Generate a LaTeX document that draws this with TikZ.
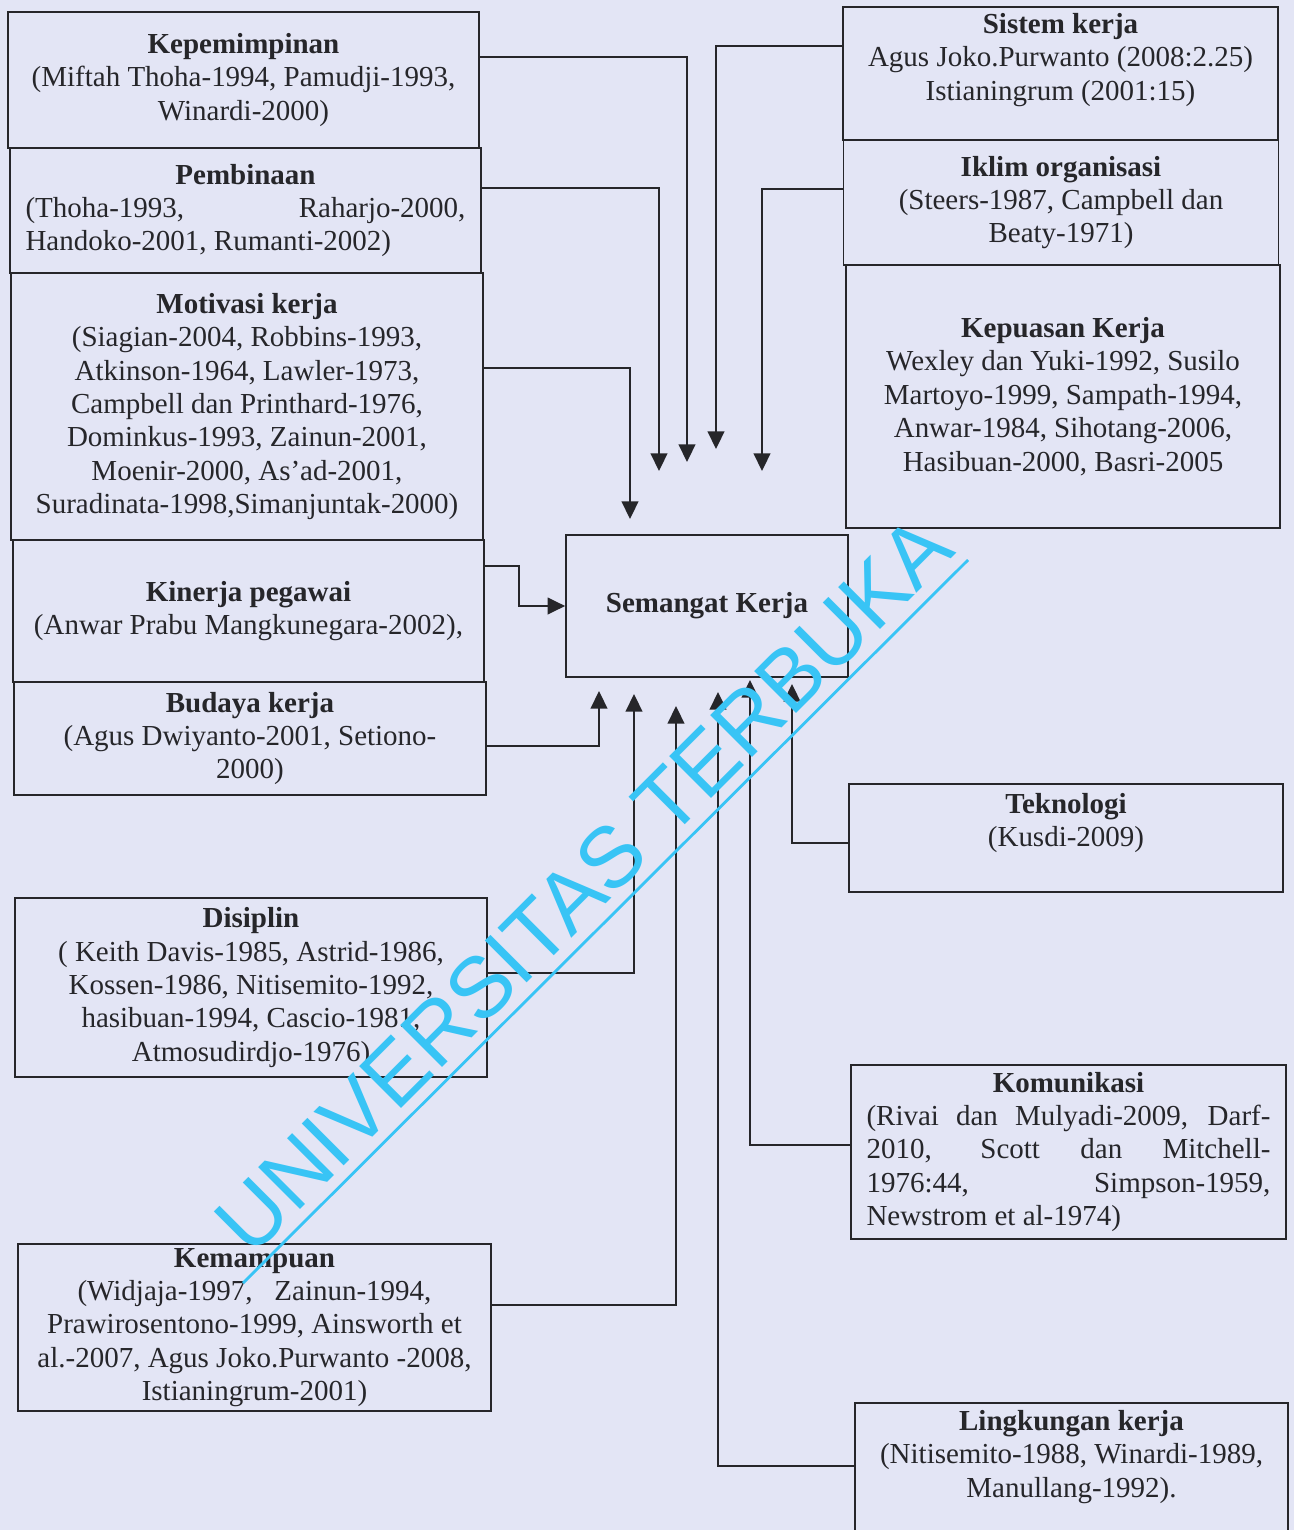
\documentclass[tikz,border=0pt]{standalone}
\usepackage{fontspec}
\setmainfont{Liberation Serif}
\newfontfamily\wmfont{Liberation Sans}
\usepackage{xcolor}
\usepackage{tikz}
\usetikzlibrary{arrows.meta,positioning,calc}

\definecolor{paper}{RGB}{227,229,245}
\definecolor{ink}{RGB}{38,38,42}
\definecolor{wmcyan}{RGB}{56,196,245}

\newcommand{\boxfont}{\fontsize{16.5}{19}\selectfont}
\newcommand{\jline}[2]{\makebox[#1][s]{#2}}
\newcommand{\lline}[2]{\makebox[#1][l]{#2}}

\begin{document}
\begin{tikzpicture}[x=0.02cm, y=-0.02cm,
    box/.style={draw=ink, line width=1pt, rectangle, inner sep=0pt, align=center, font=\boxfont, text=ink},
    txt/.style={inner sep=0pt, align=center, font=\boxfont, text=ink},
    arr/.style={draw=ink, line width=1pt, -{Triangle[width=9.5pt,length=10pt]}}]

    % Page
    \useasboundingbox (0,0) rectangle (1294,1530);
    \fill[paper] (0,0) rectangle (1294,1530);

    % Left column
    \node[box, minimum width=9.42cm, minimum height=2.72cm] (kep) at (243.5,80)
        {\textbf{Kepemimpinan}\\(Miftah Thoha-1994, Pamudji-1993,\\Winardi-2000)};
    \node[box, minimum width=9.42cm, minimum height=2.5cm] (pem) at (245.5,210.5)
        {\textbf{Pembinaan}\\\jline{8.8cm}{(Thoha-1993, Raharjo-2000,}\\\lline{8.8cm}{Handoko-2001, Rumanti-2002)}};
    \node[box, minimum width=9.44cm, minimum height=5.34cm] (mot) at (247,406.5)
        {\textbf{Motivasi kerja}\\(Siagian-2004, Robbins-1993,\\Atkinson-1964, Lawler-1973,\\Campbell dan Printhard-1976,\\Dominkus-1993, Zainun-2001,\\Moenir-2000, As’ad-2001,\\Suradinata-1998,Simanjuntak-2000)};
    \node[box, minimum width=9.42cm, minimum height=2.84cm] (kin) at (248.5,611)
        {\textbf{Kinerja pegawai}\\(Anwar Prabu Mangkunegara-2002),};
    \node[box, minimum width=9.44cm, minimum height=2.26cm] (bud) at (250,738.5)
        {\textbf{Budaya kerja}\\(Agus Dwiyanto-2001, Setiono-\\2000)};
    \node[box, minimum width=9.44cm, minimum height=3.58cm] (dis) at (251,987.5)
        {\textbf{Disiplin}\\( Keith Davis-1985, Astrid-1986,\\Kossen-1986, Nitisemito-1992,\\hasibuan-1994, Cascio-1981,\\Atmosudirdjo-1976)};
    \node[box, minimum width=9.46cm, minimum height=3.34cm] (kem) at (254.5,1327.5)
        {\textbf{Kemampuan}\\(Widjaja-1997,\ \ \ Zainun-1994,\\Prawirosentono-1999, Ainsworth et\\al.-2007, Agus Joko.Purwanto -2008,\\Istianingrum-2001)};

    % Centre
    \node[box, minimum width=5.64cm, minimum height=2.84cm] (sem) at (707,606)
        {\textbf{Semangat Kerja}};

    % Right column
    \node[box, minimum width=8.7cm, minimum height=2.66cm] (sis) at (1060.5,73.5) {};
    \node[txt, below=0.14cm of sis.north] (sis-t)
        {\textbf{Sistem kerja}\\Agus Joko.Purwanto (2008:2.25)\\Istianingrum (2001:15)};
    \node[box, minimum width=8.7cm, minimum height=2.5cm] (ikl) at (1061,202.5)
        {\textbf{Iklim organisasi}\\(Steers-1987, Campbell dan\\Beaty-1971)};
    \node[box, minimum width=8.68cm, minimum height=5.26cm] (kpu) at (1063,396.5)
        {\textbf{Kepuasan Kerja}\\Wexley dan Yuki-1992, Susilo\\Martoyo-1999, Sampath-1994,\\Anwar-1984, Sihotang-2006,\\Hasibuan-2000, Basri-2005};
    \node[box, minimum width=8.68cm, minimum height=2.16cm] (tek) at (1066,838) {};
    \node[txt, below=0.2cm of tek.north] (tek-t)
        {\textbf{Teknologi}\\(Kusdi-2009)};
    \node[box, minimum width=8.7cm, minimum height=3.48cm] (kom) at (1068.5,1152)
        {\textbf{Komunikasi}\\\jline{8.08cm}{(Rivai dan Mulyadi-2009, Darf-}\\\jline{8.08cm}{2010, Scott dan Mitchell-}\\\jline{8.08cm}{1976:44, Simpson-1959,}\\\lline{8.08cm}{Newstrom et al-1974)}};
    \node[box, minimum width=8.66cm, minimum height=2.58cm] (lin) at (1071.5,1467.5) {};
    \node[txt, below=0.16cm of lin.north] (lin-t)
        {\textbf{Lingkungan kerja}\\(Nitisemito-1988, Winardi-1989,\\Manullang-1992).};

    % Arrow tips around Semangat Kerja
    \foreach \n/\x/\y in {kep/687/462, pem/659/471, mot/630/519, sis/716/449, ikl/762/471,
                          bud/599/691, dis/634/694, kem/676/706, lin/718/692, kom/750/680, tek/792/684}
        \coordinate (t-\n) at (\x,\y);

    % Arrows from the left
    \foreach \n/\y in {kep/57, pem/188, mot/368, bud/746, dis/973, kem/1305}
        \draw[arr] (\n.east |- 0,\y) -| (t-\n);
    \draw[arr] (kin.east |- 0,566) -- ++(34,0) |- (sem.west);

    % Arrows from the right
    \foreach \n/\y in {sis/46, ikl/189, tek/843, kom/1145, lin/1466}
        \draw[arr] (\n.west |- 0,\y) -| (t-\n);

    % Watermark
    \node[rotate=45, anchor=base, inner sep=0pt, text=wmcyan,
          font=\wmfont\fontsize{49}{49}\selectfont] (wm) at (604,906) {UNIVERSITAS TERBUKA};
    \draw[wmcyan, line width=1.6pt] (243,1283) -- (968,560);

\end{tikzpicture}
\end{document}
